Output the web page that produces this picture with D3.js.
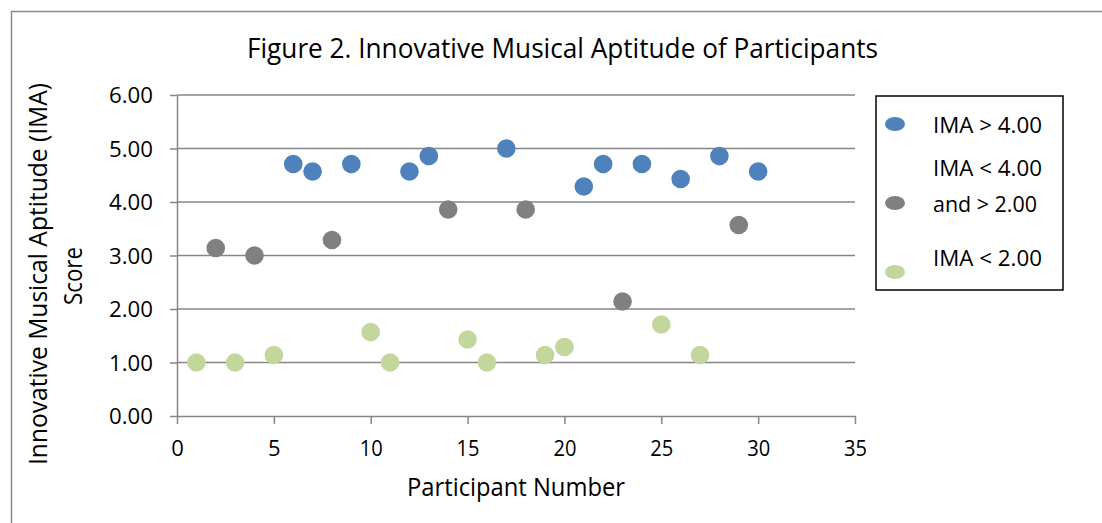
<!DOCTYPE html>
<html>
<head>
<meta charset="utf-8">
<script src="https://cdn.jsdelivr.net/npm/d3@7"></script>
<style>
  html, body { margin: 0; padding: 0; background: #fff; }
  svg { display: block; font-family: "Open Sans", "Noto Sans", sans-serif; }
</style>
</head>
<body>
<svg id="chart" width="1102" height="523"></svg>
<script>
// ---- Data ----
const highParticipants = [6, 7, 9, 12, 13, 17, 21, 22, 24, 26, 28, 30];
const highScores       = [4.71, 4.57, 4.71, 4.57, 4.86, 5.00, 4.29, 4.71, 4.71, 4.43, 4.86, 4.57];
const midParticipants  = [2, 4, 8, 14, 18, 23, 29];
const midScores        = [3.14, 3.00, 3.29, 3.86, 3.86, 2.14, 3.57];
const lowParticipants  = [1, 3, 5, 10, 11, 15, 16, 19, 20, 25, 27];
const lowScores        = [1.00, 1.00, 1.14, 1.57, 1.00, 1.43, 1.00, 1.14, 1.29, 1.71, 1.14];
const seriesNames      = ["IMA > 4.00", ["IMA < 4.00", "and > 2.00"], "IMA < 2.00"];
const xTicks = [0, 5, 10, 15, 20, 25, 30, 35];
const yTicks = [0, 1, 2, 3, 4, 5, 6];
const titleText = "Figure 2. Innovative Musical Aptitude of Participants";
const yTitleLines = ["Innovative Musical Aptitude (IMA)", "Score"];
const xTitleText = "Participant Number";

const colors = ["#4F81BD", "#808080", "#C3D69B"];
const gridColor = "#868686";

const svg = d3.select("#chart");

// outer chart border
svg.append("rect")
  .attr("x", 11.5).attr("y", 11.5)
  .attr("width", 1200).attr("height", 700)
  .attr("fill", "none").attr("stroke", "#8a8a8a").attr("stroke-width", 1.5);

const x = d3.scaleLinear().domain([0, 35]).range([177, 855]);
const y = d3.scaleLinear().domain([0, 6]).range([416, 95]);

// gridlines
svg.append("g").selectAll("line")
  .data(yTicks.filter(d => d > 0))
  .join("line")
  .attr("x1", x(0)).attr("x2", x(35))
  .attr("y1", d => y(d)).attr("y2", d => y(d))
  .attr("stroke", gridColor).attr("stroke-width", 1.5);

// y axis
const yAxis = svg.append("g")
  .attr("transform", `translate(${x(0)},0)`)
  .call(d3.axisLeft(y).tickValues(yTicks).tickFormat(d3.format(".2f")).tickSize(7).tickSizeOuter(0).tickPadding(0));
yAxis.select(".domain").attr("stroke", gridColor).attr("stroke-width", 1.5);
yAxis.selectAll(".tick line").attr("stroke", gridColor).attr("stroke-width", 1.5);
yAxis.selectAll(".tick text")
  .attr("x", 153 - x(0)).attr("dy", null).attr("y", 7.5)
  .attr("font-size", 21).attr("font-family", "Open Sans").attr("fill", "#000")
  .attr("text-anchor", "end")
  .attr("textLength", 44).attr("lengthAdjust", "spacingAndGlyphs");

// x axis
const xAxis = svg.append("g")
  .attr("transform", `translate(0,${y(0)})`)
  .call(d3.axisBottom(x).tickValues(xTicks).tickFormat(d3.format("d")).tickSize(8).tickSizeOuter(0));
xAxis.select(".domain").attr("stroke", gridColor).attr("stroke-width", 1.5);
xAxis.selectAll(".tick line").attr("stroke", gridColor).attr("stroke-width", 1.5);
xAxis.selectAll(".tick text")
  .attr("y", 456 - y(0)).attr("dy", null)
  .attr("font-size", 21).attr("font-family", "Open Sans").attr("fill", "#000")
  .attr("textLength", d => String(d).length === 1 ? 12.6 : 23)
  .attr("lengthAdjust", "spacingAndGlyphs");

// points
const series = [
  { xs: highParticipants, ys: highScores, color: colors[0] },
  { xs: midParticipants,  ys: midScores,  color: colors[1] },
  { xs: lowParticipants,  ys: lowScores,  color: colors[2] }
];
series.forEach(s => {
  svg.append("g").selectAll("circle")
    .data(s.xs.map((d, i) => [d, s.ys[i]]))
    .join("circle")
    .attr("cx", d => x(d[0])).attr("cy", d => y(d[1]))
    .attr("r", 9.3).attr("fill", s.color);
});

// title
svg.append("text")
  .attr("x", 562.5).attr("y", 58).attr("text-anchor", "middle")
  .attr("font-size", 27).attr("fill", "#000")
  .attr("textLength", 631).attr("lengthAdjust", "spacingAndGlyphs")
  .text(titleText);

// y title
svg.append("text")
  .attr("transform", "translate(47,274) rotate(-90)")
  .attr("text-anchor", "middle").attr("font-size", 26).attr("fill", "#000")
  .attr("textLength", 382).attr("lengthAdjust", "spacingAndGlyphs")
  .text(yTitleLines[0]);
svg.append("text")
  .attr("transform", "translate(82,276) rotate(-90)")
  .attr("text-anchor", "middle").attr("font-size", 26).attr("fill", "#000")
  .attr("textLength", 58).attr("lengthAdjust", "spacingAndGlyphs")
  .text(yTitleLines[1]);

// x title
svg.append("text")
  .attr("x", 516).attr("y", 496).attr("text-anchor", "middle")
  .attr("font-size", 25).attr("fill", "#000")
  .attr("textLength", 218).attr("lengthAdjust", "spacingAndGlyphs")
  .text(xTitleText);

// legend
const lg = svg.append("g");
lg.append("rect")
  .attr("x", 876).attr("y", 96).attr("width", 187).attr("height", 194)
  .attr("fill", "#fff").attr("stroke", "#000").attr("stroke-width", 1.5);
const markerY = [124, 203, 272];
lg.selectAll("ellipse").data(colors).join("ellipse")
  .attr("cx", 895).attr("cy", (d, i) => markerY[i])
  .attr("rx", 10).attr("ry", 7).attr("fill", d => d);
const legendLines = [
  { t: seriesNames[0], y: 133, w: 109 },
  { t: seriesNames[1][0], y: 176, w: 109 },
  { t: seriesNames[1][1], y: 212, w: 104 },
  { t: seriesNames[2], y: 266, w: 109 }
];
lg.selectAll("text").data(legendLines).join("text")
  .attr("x", 933).attr("y", d => d.y)
  .attr("font-size", 22).attr("fill", "#000")
  .attr("textLength", d => d.w).attr("lengthAdjust", "spacingAndGlyphs")
  .text(d => d.t);
</script>
</body>
</html>
